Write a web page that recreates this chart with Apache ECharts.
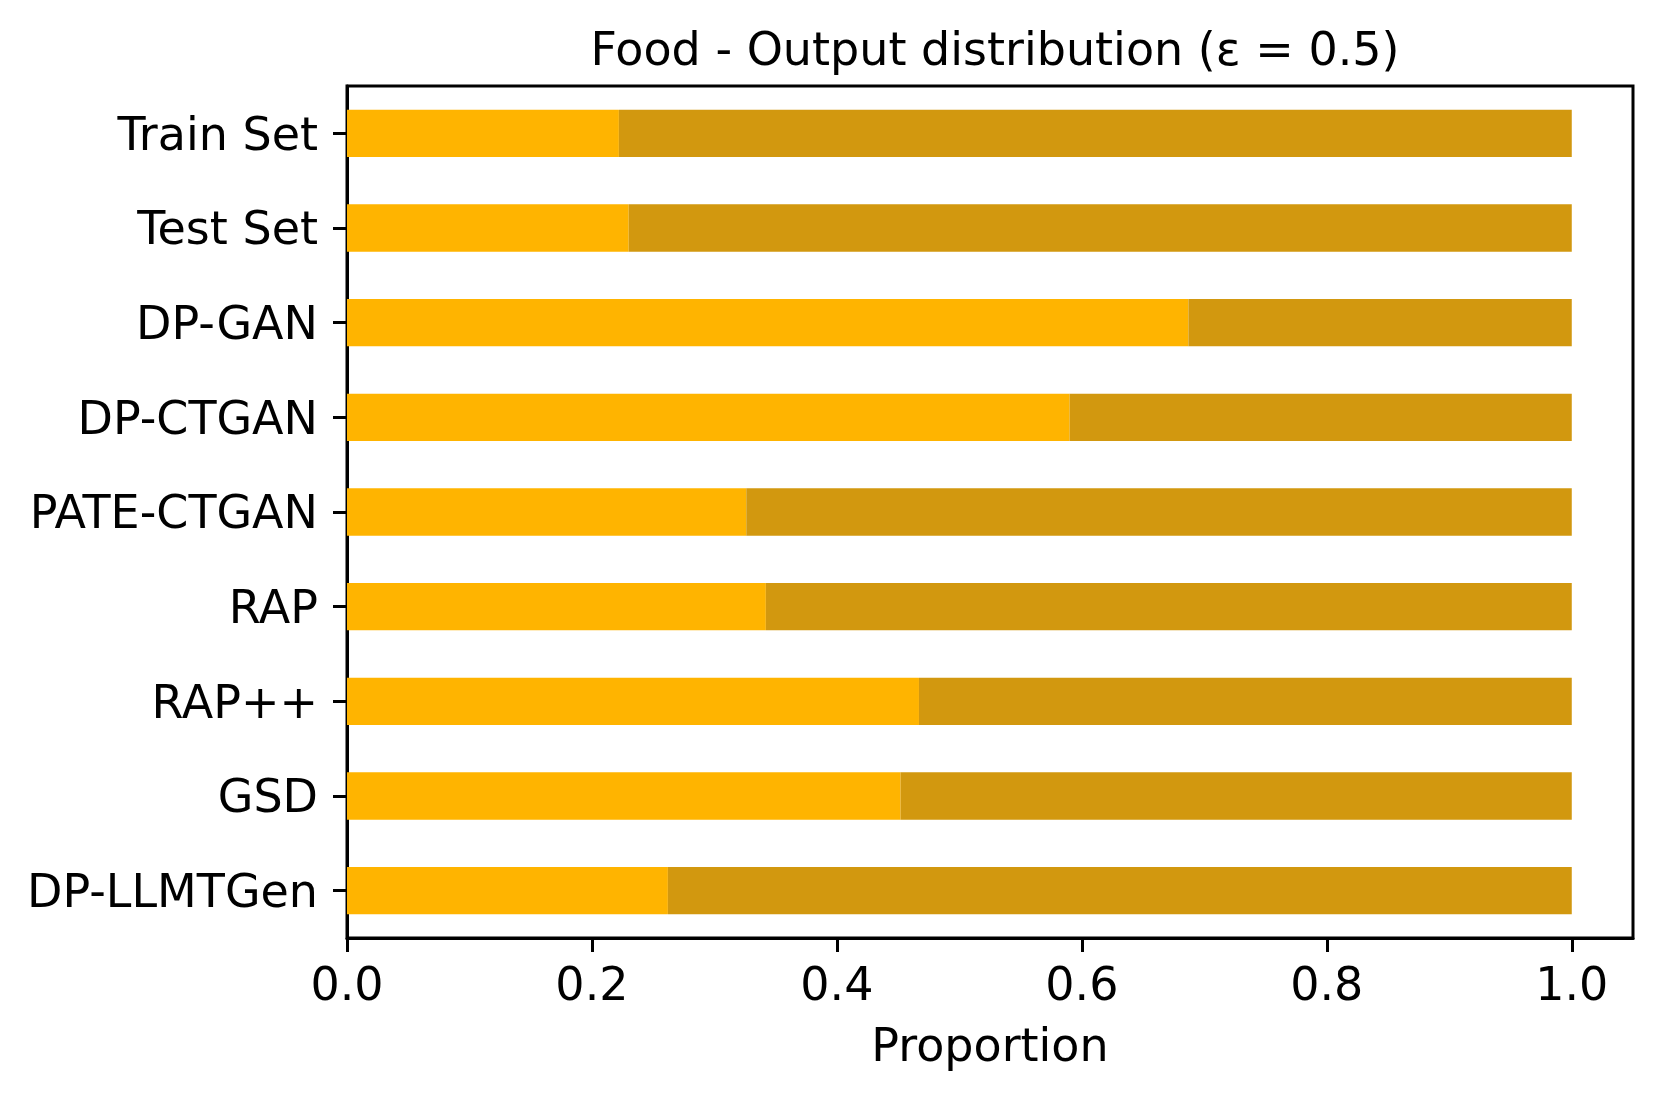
<!DOCTYPE html>
<html>
<head>
<meta charset="utf-8">
<script src="https://cdn.jsdelivr.net/npm/echarts@6/dist/echarts.min.js"></script>
<style>
html,body{margin:0;padding:0;background:#fff;}
#chart{width:1661px;height:1098px;}
</style>
</head>
<body>
<div id="chart"></div>
<script>
const categories = ['Train Set','Test Set','DP-GAN','DP-CTGAN','PATE-CTGAN','RAP','RAP++','GSD','DP-LLMTGen'];
const classA = [0.222, 0.230, 0.687, 0.590, 0.326, 0.342, 0.467, 0.452, 0.262];
const classB = [0.778, 0.770, 0.313, 0.410, 0.674, 0.658, 0.533, 0.548, 0.738];
const xTicks = [0, 0.2, 0.4, 0.6, 0.8, 1.0];
const titleText = 'Food - Output distribution (ε = 0.5)';
const xName = 'Proportion';

const FONT = 'DejaVu Sans';
const FS = 46;
const chart = echarts.init(document.getElementById('chart'), null, {renderer:'canvas'});
chart.setOption({
  animation: false,
  backgroundColor: '#ffffff',
  textStyle: {fontFamily: FONT},
  title: {
    text: titleText,
    left: 990,
    top: 25,
    textAlign: 'center',
    textStyle: {fontFamily: FONT, fontSize: FS, fontWeight: 'normal', color: '#000'}
  },
  grid: {
    left: 347, right: 28, top: 86, bottom: 160,
    show: true, borderColor: '#000', borderWidth: 3, backgroundColor: 'transparent',
    containLabel: false
  },
  xAxis: {
    type: 'value',
    min: 0, max: 1.05, interval: 0.2,
    name: xName,
    nameLocation: 'middle',
    nameGap: 88,
    nameTextStyle: {fontFamily: FONT, fontSize: FS, color: '#000'},
    splitLine: {show: false},
    axisLine: {show: true, lineStyle: {color: '#000', width: 3}},
    axisTick: {show: true, length: 14, lineStyle: {color: '#000', width: 3}, customValues: xTicks},
    axisLabel: {
      fontFamily: FONT, fontSize: FS, color: '#000', margin: 27,
      customValues: xTicks,
      formatter: v => v.toFixed(1)
    }
  },
  yAxis: {
    type: 'category',
    data: categories,
    inverse: true,
    axisLine: {show: true, lineStyle: {color: '#000', width: 3}},
    axisTick: {show: true, alignWithLabel: true, length: 14, lineStyle: {color: '#000', width: 3}},
    axisLabel: {fontFamily: FONT, fontSize: FS, color: '#000', margin: 29, verticalAlign: 'top', lineHeight: 9},
    splitLine: {show: false}
  },
  series: [
    {name: 'Class A', type: 'bar', stack: 'total', barWidth: '50%', data: classA,
     itemStyle: {color: '#FFB400'}},
    {name: 'Class B', type: 'bar', stack: 'total', barWidth: '50%', data: classB,
     itemStyle: {color: '#D2980F'}}
  ]
});
</script>
</body>
</html>
